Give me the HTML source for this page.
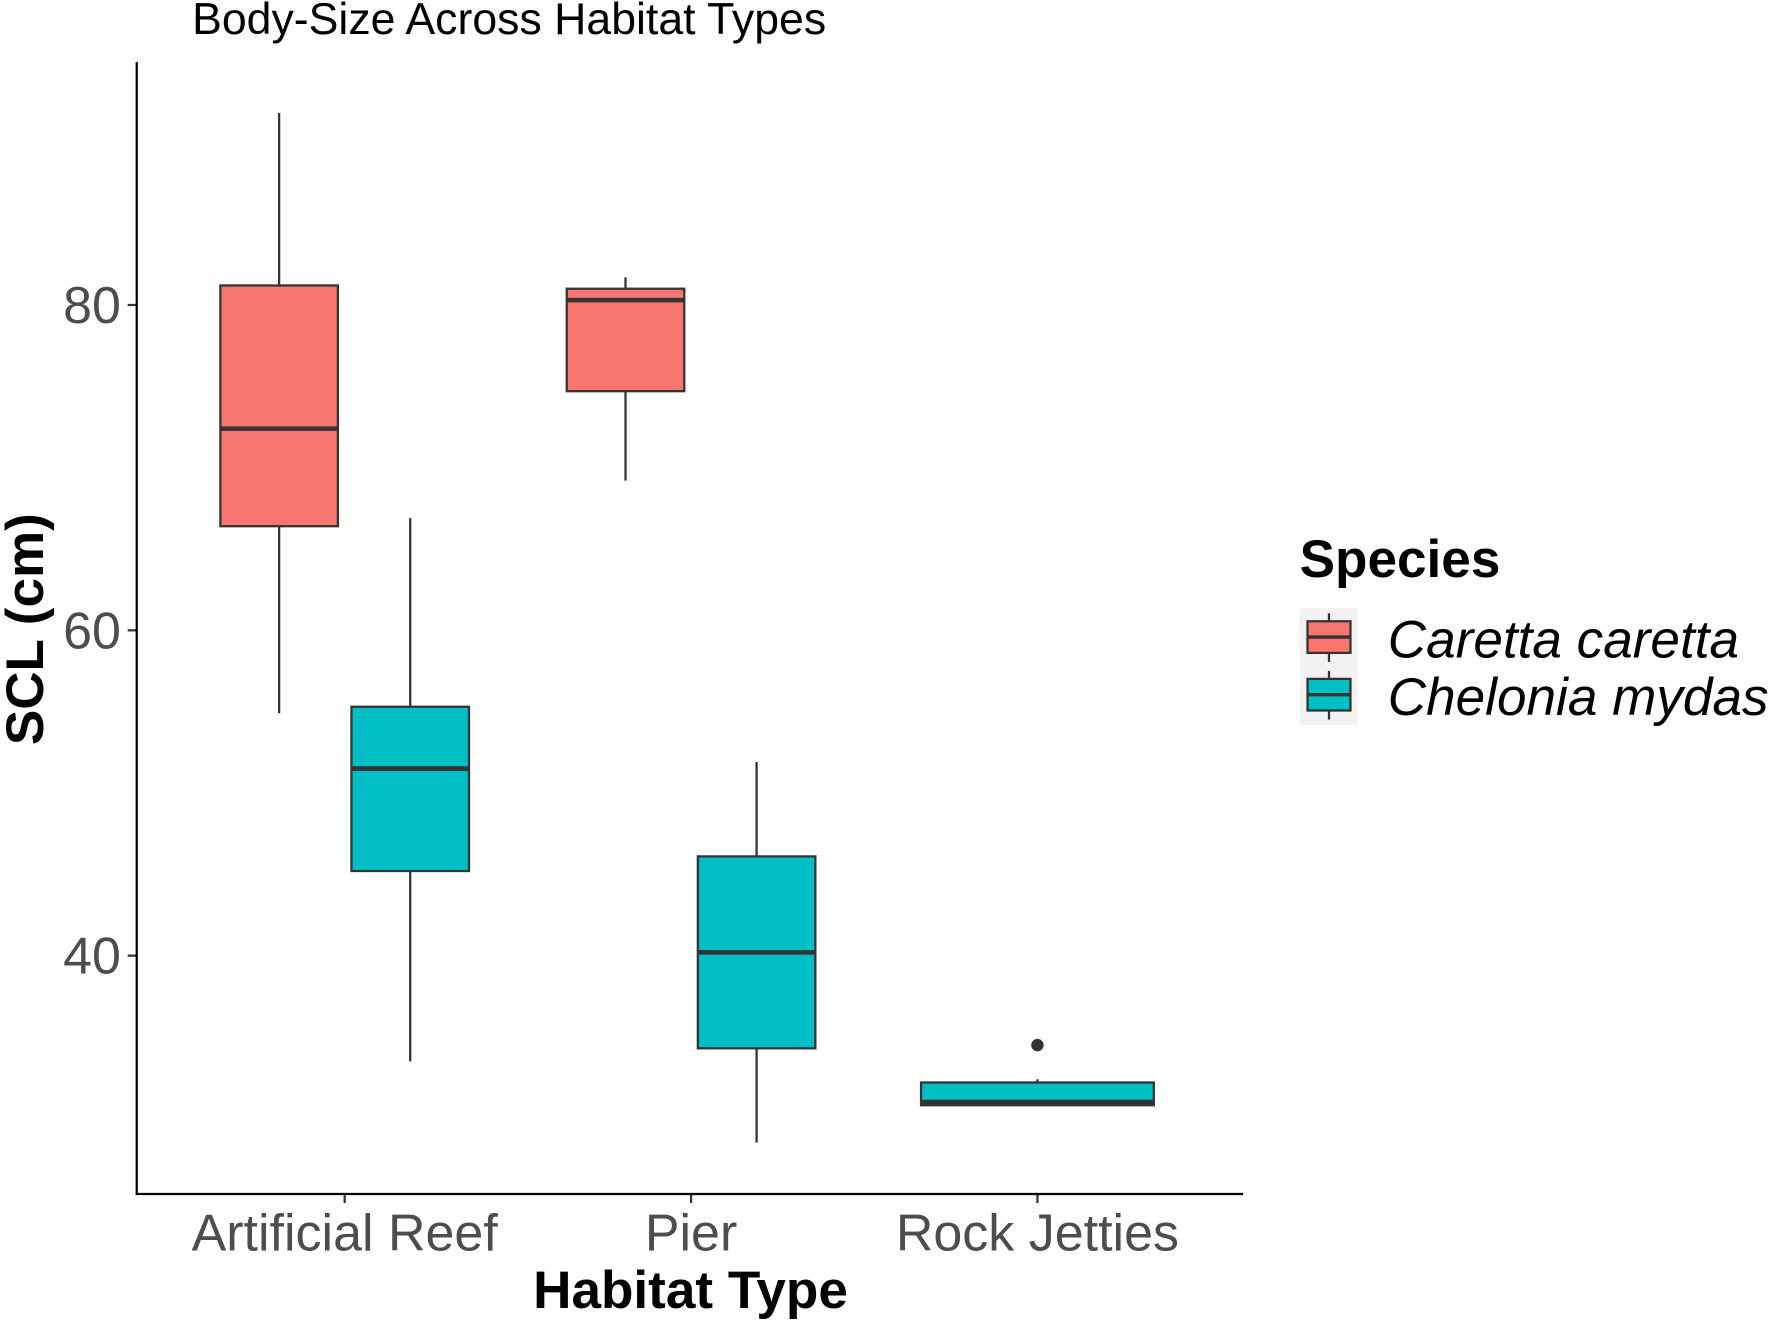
<!DOCTYPE html>
<html><head><meta charset="utf-8"><style>
html,body{margin:0;padding:0;background:#fff;}
svg{display:block;font-family:"Liberation Sans",Arial,sans-serif;}
</style></head><body>
<svg id="chart" width="1772" height="1325" viewBox="0 0 1568 1173" preserveAspectRatio="none" xmlns="http://www.w3.org/2000/svg">
<text x="170" y="30" font-size="39.5" fill="#000">Body-Size Across Habitat Types</text>
<g id="plot"></g>
<line x1="121" y1="55" x2="121" y2="1057" stroke="#000" stroke-width="2"/>
<line x1="120" y1="1057" x2="1100" y2="1057" stroke="#000" stroke-width="2"/>
<text transform="translate(38,557) rotate(-90)" text-anchor="middle" font-size="47" font-weight="bold">SCL (cm)</text>
<text x="611" y="1158" text-anchor="middle" font-size="47" font-weight="bold">Habitat Type</text>
<g>
<text x="1150" y="511" font-size="47" font-weight="bold">Species</text>
<rect x="1150" y="538" width="51" height="104" fill="#f2f2f2"/>
<g>
<line x1="1176" y1="543" x2="1176" y2="586" stroke="#333" stroke-width="2"/>
<rect x="1157" y="550" width="38" height="28" fill="#F8766D" stroke="#333" stroke-width="2"/>
<line x1="1157" y1="564" x2="1195" y2="564" stroke="#333" stroke-width="3"/>
</g>
<text x="1228" y="582" font-size="47" font-style="italic">Caretta caretta</text>
<g>
<line x1="1176" y1="594" x2="1176" y2="637" stroke="#333" stroke-width="2"/>
<rect x="1157" y="601" width="38" height="28" fill="#00BFC4" stroke="#333" stroke-width="2"/>
<line x1="1157" y1="615" x2="1195" y2="615" stroke="#333" stroke-width="3"/>
</g>
<text x="1228" y="633" font-size="47" font-style="italic">Chelonia mydas</text>
</g>
</svg>
<script>
const categories = ["Artificial Reef", "Pier", "Rock Jetties"];
const yTicks = [40, 60, 80];
const species = ["Caretta caretta", "Chelonia mydas"];
// [lowWhisker, Q1, median, Q3, highWhisker], null when absent
const carettaStats = [[54.9, 66.4, 72.4, 81.2, 91.8], [69.2, 74.7, 80.3, 81.0, 81.7], null];
const cheloniaStats = [[33.5, 45.2, 51.5, 55.3, 66.9], [28.5, 34.3, 40.2, 46.1, 51.9], [30.8, 30.8, 31.0, 32.2, 32.4]];
const cheloniaOutliers = [[], [], [34.5]];

const NS = "http://www.w3.org/2000/svg";
const plot = document.getElementById("plot");
function y(v){ return 270 + (80 - v) * 14.4; }
function xc(i){ return 305 + i * 306.5; }
function mk(tag, attrs){ const e = document.createElementNS(NS, tag); for (const k in attrs) e.setAttribute(k, attrs[k]); plot.appendChild(e); return e; }

yTicks.forEach(t => {
  const tk = mk("line", {x1:113, x2:121, y1:y(t), y2:y(t), stroke:"#333", "stroke-width":2});
  
  
  const lb = mk("text", {x:107, y:y(t)+16, "text-anchor":"end", "font-size":46, fill:"#4d4d4d"});
  lb.textContent = t;
  
  
});
categories.forEach((c, i) => {
  const tk = mk("line", {x1:xc(i), x2:xc(i), y1:1057, y2:1065, stroke:"#333", "stroke-width":2});
  
  
  const lb = mk("text", {x:xc(i), y:1107, "text-anchor":"middle", "font-size":46, fill:"#4d4d4d"});
  lb.textContent = c;
  
  
});

function drawBox(s, cx, w, fill, name){
  const g = mk("g", {});
  
  
  const add = (tag, a) => { const e = document.createElementNS(NS, tag); for (const k in a) e.setAttribute(k, a[k]); g.appendChild(e); return e; };
  add("line", {x1:cx, x2:cx, y1:y(s[4]), y2:y(s[3]), stroke:"#333", "stroke-width":2});
  add("line", {x1:cx, x2:cx, y1:y(s[1]), y2:y(s[0]), stroke:"#333", "stroke-width":2});
  add("rect", {x:cx-w/2, y:y(s[3]), width:w, height:Math.max(0.5, y(s[1])-y(s[3])), fill:fill, stroke:"#333", "stroke-width":2});
  add("line", {x1:cx-w/2, x2:cx+w/2, y1:y(s[2]), y2:y(s[2]), stroke:"#333", "stroke-width":4});
}
categories.forEach((c, i) => {
  const both = carettaStats[i] && cheloniaStats[i];
  if (carettaStats[i]) drawBox(carettaStats[i], both ? xc(i)-58 : xc(i), both ? 104 : 206, "#F8766D", "box-caretta-" + i);
  if (cheloniaStats[i]) drawBox(cheloniaStats[i], both ? xc(i)+58 : xc(i), both ? 104 : 206, "#00BFC4", "box-chelonia-" + i);
  cheloniaOutliers[i].forEach(v => {
    const cx = both ? xc(i)+58 : xc(i);
    const p = mk("circle", {cx:cx, cy:y(v), r:5.5, fill:"#333"});
    
    
  });
});
</script>
</body></html>
